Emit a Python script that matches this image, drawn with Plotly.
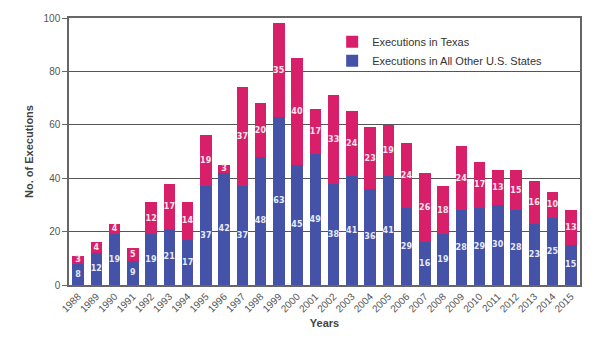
import plotly.graph_objects as go

years = [str(y) for y in range(1988, 2016)]
other_states = [8, 12, 19, 9, 19, 21, 17, 37, 42, 37, 48, 63, 45, 49, 38, 41, 36, 41, 29, 16, 19, 28, 29, 30, 28, 23, 25, 15]
texas = [3, 4, 4, 5, 12, 17, 14, 19, 3, 37, 20, 35, 40, 17, 33, 24, 23, 19, 24, 26, 18, 24, 17, 13, 15, 16, 10, 13]
y_ticks = [0, 20, 40, 60, 80, 100]

blue = "#4453A8"
pink = "#D8206A"

fig = go.Figure()
fig.add_trace(go.Bar(
    x=years, y=other_states, name="Executions in All Other U.S. States",
    marker=dict(color=blue, line=dict(width=0)),
    text=other_states, textposition="inside", insidetextanchor="middle",
    textangle=0, constraintext="none",
    textfont=dict(color="#E8EAF6", size=8, family="DejaVu Sans"),
    texttemplate="<b>%{text}</b>",
    cliponaxis=False,
))
fig.add_trace(go.Bar(
    x=years, y=texas, name="Executions in Texas",
    marker=dict(color=pink, line=dict(width=0)),
    text=texas, textposition="inside", insidetextanchor="middle",
    textangle=0, constraintext="none",
    textfont=dict(color="#FCE4EC", size=8, family="DejaVu Sans"),
    texttemplate="<b>%{text}</b>",
    cliponaxis=False,
))

fig.update_layout(
    barmode="stack",
    bargap=0.36,
    width=600, height=346,
    margin=dict(l=69, r=20, t=16, b=61),
    paper_bgcolor="white", plot_bgcolor="white",
    uniformtext=dict(minsize=8, mode="show"),
    font=dict(family="Liberation Sans, Arial", color="#444"),
    legend=dict(
        x=0.515, y=0.965, xanchor="left", yanchor="top",
        traceorder="reversed", bgcolor="rgba(0,0,0,0)",
        font=dict(size=11, color="#333"),
        itemsizing="constant", tracegroupgap=0,
    ),
    xaxis=dict(
        tickangle=-45, tickfont=dict(size=10, color="#555"),
        showline=True, linecolor="#666", linewidth=1.5, mirror=True,
        ticks="", title=dict(text="<b>Years</b>", font=dict(size=11, color="#444"), standoff=6),
    ),
    yaxis=dict(
        range=[0, 100], tickvals=y_ticks,
        tickfont=dict(size=10, color="#555"),
        showgrid=True, gridcolor="#555", gridwidth=1,
        showline=True, linecolor="#666", linewidth=1.5, mirror=True,
        ticks="outside", ticklen=5, tickcolor="#666",
        zeroline=False,
        title=dict(text="<b>No. of Executions</b>", font=dict(size=11, color="#444"), standoff=8),
    ),
)

fig.write_html("out.html")
